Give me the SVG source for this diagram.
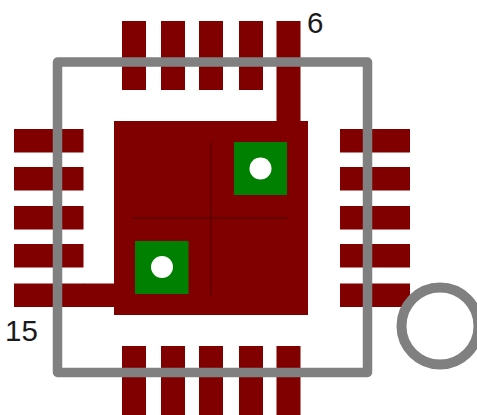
<svg xmlns="http://www.w3.org/2000/svg" width="477" height="415" viewBox="0 0 477 415">
<style>
.cu{fill:#800000}
.pv{fill:#008000}
.hole{fill:#fff}
.thin{stroke:#5a0000;stroke-width:1.3;fill:none}
.silk{fill:none;stroke:#808080;stroke-width:9.5;stroke-linejoin:round}
text{font-family:"Liberation Sans",Arial,sans-serif;font-size:29.5px;fill:#1a1a1a}
</style>
<rect width="477" height="415" fill="#fff"/>
<g id="pads-top" class="cu">
<rect x="122" y="21" width="24" height="69"/><rect x="161" y="21" width="24" height="69"/><rect x="199" y="21" width="24" height="69"/><rect x="239" y="21" width="24" height="69"/><rect x="276.500" y="21" width="24" height="69"/>
</g>
<g id="pads-bottom" class="cu">
<rect x="122" y="346" width="24" height="69"/><rect x="161" y="346" width="24" height="69"/><rect x="199" y="346" width="24" height="69"/><rect x="239" y="346" width="24" height="69"/><rect x="276.500" y="346" width="24" height="69"/>
</g>
<g id="pads-left" class="cu">
<rect x="14" y="129" width="69.500" height="23.500"/><rect x="14" y="167" width="69.500" height="23.500"/><rect x="14" y="206" width="69.500" height="23.500"/><rect x="14" y="244" width="69.500" height="23.500"/><rect x="14" y="283.500" width="69.500" height="23.500"/>
</g>
<g id="pads-right" class="cu">
<rect x="340" y="129" width="70" height="23.500"/><rect x="340" y="167" width="70" height="23.500"/><rect x="340" y="206" width="70" height="23.500"/><rect x="340" y="244" width="70" height="23.500"/><rect x="340" y="283.500" width="70" height="23.500"/>
</g>
<g id="center-pad">
<rect class="cu" x="114" y="121" width="194" height="194"/>
<rect class="cu" x="276.500" y="90" width="24" height="31"/>
<rect class="cu" x="83" y="283.500" width="31" height="23.500"/>
<path class="thin" d="M211 142V296M132 218H287"/>
</g>
<g id="via-top">
<rect class="pv" x="234" y="142" width="53" height="53"/>
<circle class="hole" cx="260.500" cy="168.500" r="11"/>
</g>
<g id="via-bottom">
<rect class="pv" x="135" y="241" width="53.500" height="53"/>
<circle class="hole" cx="162" cy="267" r="11"/>
</g>
<g id="outline">
<rect class="silk" x="57.500" y="62" width="310" height="310.500"/>
</g>
<g id="pin-marker">
<circle cx="440" cy="326" r="38.500" fill="none" stroke="#808080" stroke-width="10"/>
</g>
<g id="labels">
<text x="307" y="33">6</text>
<text x="5" y="341">15</text>
</g>
</svg>
